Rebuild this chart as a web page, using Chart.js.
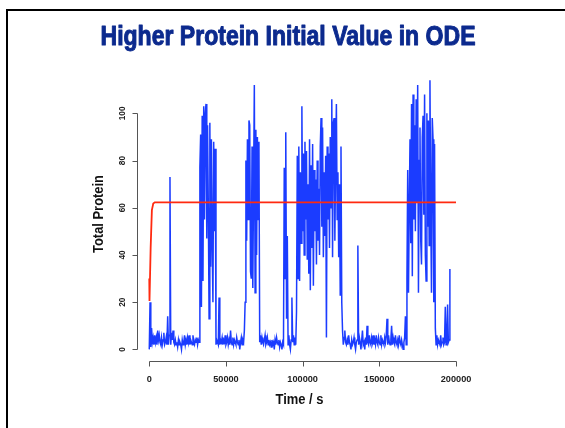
<!DOCTYPE html>
<html>
<head>
<meta charset="utf-8">
<title>Higher Protein Initial Value in ODE</title>
<script src="https://cdn.jsdelivr.net/npm/chart.js@4.4.1/dist/chart.umd.min.js"></script>
<style>
  html, body { margin: 0; padding: 0; background: #fff; }
  canvas { display: block; }
</style>
</head>
<body>
<canvas id="chart" width="565" height="428"></canvas>
<script>
// ============================================
// DATA
// ============================================
// stochastic (SSA) trace, one sample every SAMPLE_STEP seconds, split into quiet / burst stretches
const SAMPLE_STEP = 500;

const quiet1 = [
  0, 20, 1, 9, 3, 5, 2, 6, 3, 5,
  2, 8, 4, 6, 3, 2, 5, 2, 4, 7,
  2, 3, 5, 2, 14, 2, 6, 73, 2, 7,
  4, 8, 3, 2, 4, 2, 3, 1, 4, 2,
  3, 2, 0, 4, 2, 3, 6, 2, 4, 2,
  5, 3, 6, 2, 4, 3, 2, 6, 3, 2,
  4, 3, 5, 2, 4, 3
];
const burst1 = [77, 91, 18, 99, 29, 103, 55, 100, 104, 47, 95, 60, 13, 96, 35, 89, 45, 20, 88, 50, 85];
const quiet2 = [
  2, 4, 3, 2, 22, 2, 4, 3, 5, 2,
  4, 3, 6, 2, 3, 5, 2, 4, 2, 8,
  3, 2, 5, 2, 4, 3, 2, 5, 3, 2,
  4, 0, 3, 5, 2, 4, 3, 8
];
const burst2 = [20, 80, 46, 89, 55, 97, 95, 33, 30, 86, 26, 70, 112, 24, 93, 40, 90, 55, 88];
const quiet3 = [
  3, 6, 2, 5, 3, 2, 4, 6, 2, 3,
  5, 2, 4, 2, 3, 1, 4, 2, 3, 0,
  4, 2, 5, 3, 2, 4, 1, 3, 2, 0,
  3, 2
];
const burst3 = [77, 30, 92, 13, 48, 2, 6, 2, 0, 4, 22, 3, 6, 2, 5, 2];
const burst4 = [
  16, 82, 30, 86, 29, 75, 45, 103, 50, 83,
  40, 88, 55, 84, 38, 70, 32, 89, 25, 78,
  43, 87, 27, 76, 50, 72, 36, 80, 46, 68,
  40, 86, 98, 52, 94, 39, 75, 48, 82, 5,
  86, 55, 83, 43, 90, 60, 106, 39, 96, 98,
  46, 80, 104, 55, 75, 39, 70, 23, 86, 20,
  8
];
const quiet4 = [
  2, 5, 8, 3, 2, 4, 2, 6, 3, 2,
  0, 4, 2, 3, 5, 2, 0, 3, 4, 44,
  2, 5, 3, 0, 4, 8, 2, 3, 0, 5,
  2, 10, 3, 2, 6, 3, 2, 5, 3, 6,
  2, 4, 2, 6, 3, 2, 5, 3, 2, 6,
  2, 4, 3, 2, 5, 3, 6, 13, 2, 6,
  3, 2, 4, 10, 2, 5, 3, 2, 6, 3,
  2, 4, 2, 6, 3, 2, 4, 2, 0, 3,
  5, 14, 2
];
const burst5 = [
  30, 76, 24, 60, 89, 45, 104, 31, 108, 55,
  95, 50, 106, 62, 112, 24, 80, 94, 46, 36,
  90, 99, 57, 108, 40, 29, 100, 52, 97, 44,
  114, 58, 24, 98, 89, 20, 87, 9
];
const quiet5 = [2, 6, 2, 4, 3, 2, 6, 2, 3, 5, 2, 3, 18, 2, 4, 19, 3, 4, 34];

// deterministic ODE solution
const odeTimes = [0, 150, 900, 1700, 2600, 3600, 200000];
const odeValues = [30, 20.5, 43, 59, 61.8, 62.3, 62.3];

// axes
const xTicks = [0, 50000, 100000, 150000, 200000];
const yTicks = [0, 20, 40, 60, 80, 100];

// ============================================
// STYLE
// ============================================
const BLUE = '#1b3cff';
const RED = '#ff2a10';
const TITLE_COLOR = '#0c2a8e';
const AXIS_COLOR = '#555555';
const FONT = '"Liberation Sans", Arial, sans-serif';

// ============================================
// BUILD SERIES
// ============================================
const ssaValues = [].concat(quiet1, burst1, quiet2, burst2, quiet3, burst3, burst4, quiet4, burst5, quiet5);
const ssaPoints = ssaValues.map((v, i) => ({ x: i * SAMPLE_STEP, y: v }));
const odePoints = odeTimes.map((t, i) => ({ x: t, y: odeValues[i] }));

// ============================================
// TEXT HELPER
// ============================================
function drawText(ctx, text, x, y, font, color, opts = {}) {
  ctx.save();
  ctx.font = font;
  ctx.fillStyle = color;
  ctx.textAlign = 'center';
  ctx.textBaseline = 'alphabetic';
  ctx.translate(x, y);
  if (opts.angle) ctx.rotate(opts.angle);
  if (opts.width) {
    const w = ctx.measureText(text).width;
    ctx.scale(opts.width / w, 1);
  }
  ctx.fillText(text, 0, 0);
  if (opts.heavy) {
    // fake a heavier weight, the original title is a black condensed face
    ctx.strokeStyle = color;
    ctx.lineWidth = opts.heavy;
    ctx.lineJoin = 'round';
    ctx.strokeText(text, 0, 0);
  }
  ctx.restore();
}

// ============================================
// R-STYLE AXES PLUGIN
// ============================================
const rStylePlugin = {
  id: 'rStyle',
  beforeDraw(chart) {
    const ctx = chart.ctx;
    ctx.save();
    ctx.fillStyle = '#ffffff';
    ctx.fillRect(0, 0, chart.width, chart.height);
    // slide frame (left and top edge only visible)
    ctx.fillStyle = '#000000';
    ctx.fillRect(6, 9, 2, chart.height - 9);
    ctx.fillRect(6, 9, chart.width - 6, 2);
    ctx.restore();

    drawText(ctx, 'Higher Protein Initial Value in ODE', 288, 45,
      'bold 27px "Liberation Sans Narrow", ' + FONT, TITLE_COLOR, { width: 375, heavy: 1 });
  },
  afterDraw(chart) {
    const ctx = chart.ctx;
    const xs = chart.scales.x;
    const ys = chart.scales.y;
    const area = chart.chartArea;

    ctx.save();
    ctx.strokeStyle = AXIS_COLOR;
    ctx.lineWidth = 1;
    ctx.beginPath();

    // x axis
    const axisY = Math.round(area.bottom) + 0.5;
    ctx.moveTo(Math.round(xs.getPixelForValue(xTicks[0])) + 0.5, axisY);
    ctx.lineTo(Math.round(xs.getPixelForValue(xTicks[xTicks.length - 1])) + 0.5, axisY);
    xTicks.forEach(t => {
      const px = Math.round(xs.getPixelForValue(t)) + 0.5;
      ctx.moveTo(px, axisY);
      ctx.lineTo(px, axisY + 5);
    });

    // y axis
    const axisX = Math.round(area.left) + 0.5;
    ctx.moveTo(axisX, Math.round(ys.getPixelForValue(yTicks[0])) + 0.5);
    ctx.lineTo(axisX, Math.round(ys.getPixelForValue(yTicks[yTicks.length - 1])) + 0.5);
    yTicks.forEach(t => {
      const py = Math.round(ys.getPixelForValue(t)) + 0.5;
      ctx.moveTo(axisX, py);
      ctx.lineTo(axisX - 5, py);
    });
    ctx.stroke();
    ctx.restore();

    // tick labels
    xTicks.forEach(t => {
      const label = String(t);
      drawText(ctx, label, xs.getPixelForValue(t), axisY + 20.5, 'bold 9px ' + FONT, '#222222',
        { width: label.length * 5.1 });
    });
    yTicks.forEach(t => {
      const label = String(t);
      drawText(ctx, label, axisX - 12.5, ys.getPixelForValue(t), 'bold 9px ' + FONT, '#222222',
        { angle: -Math.PI / 2, width: label.length * 4.6 });
    });

    // axis titles
    drawText(ctx, 'Time / s', 299.5, 404, 'bold 14px ' + FONT, '#111111', { width: 48 });
    drawText(ctx, 'Total Protein', 103, 214, 'bold 14px ' + FONT, '#111111',
      { angle: -Math.PI / 2, width: 78 });
  }
};

// ============================================
// CHART
// ============================================
new Chart(document.getElementById('chart'), {
  type: 'line',
  data: {
    datasets: [
      {
        label: 'ODE',
        data: odePoints,
        borderColor: RED,
        borderWidth: 1.8,
        pointRadius: 0,
        tension: 0,
        order: 1
      },
      {
        label: 'SSA',
        data: ssaPoints,
        borderColor: BLUE,
        borderWidth: 1.5,
        pointRadius: 0,
        tension: 0,
        order: 2
      }
    ]
  },
  options: {
    responsive: false,
    animation: false,
    devicePixelRatio: 1,
    parsing: false,
    layout: { padding: { left: 137, right: 96.7, top: 68.5, bottom: 67.3 } },
    plugins: { legend: { display: false }, tooltip: { enabled: false } },
    scales: {
      x: { type: 'linear', min: -8000, max: 208000, display: false },
      y: { type: 'linear', min: -4.8, max: 119, display: false }
    }
  },
  plugins: [rStylePlugin]
});
</script>
</body>
</html>
